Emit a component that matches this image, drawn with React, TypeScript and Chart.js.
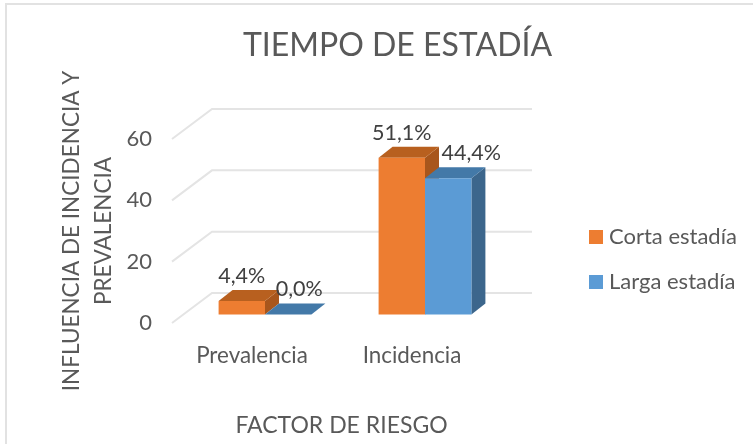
import React, { useEffect, useRef } from "react";
import { Chart, registerables } from "chart.js";

Chart.register(...registerables);

const categories = ["Prevalencia", "Incidencia"];
const corta = [4.4, 51.1];
const larga = [0.0, 44.4];
const cortaName = "Corta estadía";
const largaName = "Larga estadía";
const chartTitle = "TIEMPO DE ESTADÍA";
const xTitle = "FACTOR DE RIESGO";
const yTitle = ["INFLUENCIA DE INCIDENCIA Y", "PREVALENCIA"];

const FONT = "Lato, 'Noto Sans', sans-serif";
const TEXT = "#595959";
const GRID = "#E4E4E4";
const ORANGE = "#ED7D31";
const BLUE = "#5B9BD5";
const SHADES: Record<number, { top: string; side: string }> = {
  0: { top: "#B8601F", side: "#A8561C" },
  1: { top: "#4379A8", side: "#3C668C" },
};
// 3D projection: the bars stand a little behind the front plane of the axis box
const WALL = { dx: 40, dy: -30 };
const PLANE = { dx: 13, dy: -8.6 };
const DEPTH = { dx: 14, dy: -11 };
const labelNudge = [
  [0, 0],
  [11, 23],
];
const LABEL_RISE = 25;

const threeD = {
  id: "threeD",
  beforeLayout(chart: any) {
    const legend = chart.legend;
    if (legend && !legend.__wrapped) {
      legend.__wrapped = true;
      const fit = legend.fit.bind(legend);
      legend.fit = () => {
        fit();
        legend.width = 261;
      };
    }
  },
  afterLayout(chart: any) {
    const legend = chart.legend;
    if (legend) {
      legend.left = 571;
      legend.right = 753;
      legend.top = 203;
      legend.bottom = 320;
    }
    const x = chart.scales.x;
    if (x && !x.__wrapped) {
      x.__wrapped = true;
      const drawTitle = x.drawTitle.bind(x);
      x.drawTitle = () => {
        chart.ctx.save();
        chart.ctx.translate(9.5, 0);
        drawTitle();
        chart.ctx.restore();
      };
    }
  },
  beforeDraw(chart: any) {
    const { ctx, width, height } = chart;
    ctx.save();
    ctx.strokeStyle = "#E2E2E2";
    ctx.lineWidth = 2;
    ctx.beginPath();
    ctx.moveTo(6, height);
    ctx.lineTo(6, 4);
    ctx.lineTo(width, 4);
    ctx.stroke();
    ctx.restore();
  },
  beforeDatasetsDraw(chart: any) {
    const { ctx, chartArea, scales } = chart;
    ctx.save();
    ctx.strokeStyle = GRID;
    ctx.lineWidth = 2;
    scales.y.ticks.forEach((t: any) => {
      const y = scales.y.getPixelForValue(t.value);
      ctx.beginPath();
      ctx.moveTo(chartArea.left, y);
      ctx.lineTo(chartArea.left + WALL.dx, y + WALL.dy);
      ctx.lineTo(chartArea.right + WALL.dx, y + WALL.dy);
      ctx.stroke();
    });
    ctx.restore();

    // top and side faces, left series first, so the right bars cover them
    ctx.save();
    ctx.translate(PLANE.dx, PLANE.dy);
    chart.data.datasets.forEach((_: any, i: number) => {
      const shade = SHADES[i];
      chart.getDatasetMeta(i).data.forEach((el: any) => {
        const { x, y, base, width } = el.getProps(["x", "y", "base", "width"]);
        const l = x - width / 2;
        const r = x + width / 2;
        ctx.fillStyle = shade.side;
        ctx.beginPath();
        ctx.moveTo(r, y);
        ctx.lineTo(r + DEPTH.dx, y + DEPTH.dy);
        ctx.lineTo(r + DEPTH.dx, base + DEPTH.dy);
        ctx.lineTo(r, base);
        ctx.closePath();
        ctx.fill();
        ctx.fillStyle = shade.top;
        ctx.beginPath();
        ctx.moveTo(l, y);
        ctx.lineTo(l + DEPTH.dx, y + DEPTH.dy);
        ctx.lineTo(r + DEPTH.dx, y + DEPTH.dy);
        ctx.lineTo(r, y);
        ctx.closePath();
        ctx.fill();
      });
    });
    ctx.restore();
  },
  beforeDatasetDraw(chart: any) {
    chart.ctx.save();
    chart.ctx.translate(PLANE.dx, PLANE.dy);
  },
  afterDatasetDraw(chart: any) {
    chart.ctx.restore();
  },
  afterDatasetsDraw(chart: any) {
    const { ctx } = chart;
    ctx.save();
    ctx.font = `21.5px ${FONT}`;
    ctx.fillStyle = "#404040";
    ctx.textAlign = "center";
    ctx.textBaseline = "middle";
    chart.data.datasets.forEach((ds: any, i: number) => {
      chart.getDatasetMeta(i).data.forEach((el: any, j: number) => {
        const text = ds.data[j].toFixed(1).replace(".", ",") + "%";
        ctx.fillText(text, el.x + PLANE.dx + labelNudge[i][j], el.y + PLANE.dy - LABEL_RISE);
      });
    });
    ctx.restore();
  },
};

export default function App() {
  const ref = useRef<HTMLCanvasElement>(null);
  useEffect(() => {
    const chart = new Chart(ref.current!, {
      type: "bar",
      data: {
        labels: categories,
        datasets: [
          { label: cortaName, data: corta, backgroundColor: ORANGE, clip: false },
          { label: largaName, data: larga, backgroundColor: BLUE, clip: false },
        ],
      },
      options: {
        responsive: false,
        animation: false,
        layout: { padding: { left: 42, right: 0, top: 0, bottom: 0 } },
        datasets: { bar: { categoryPercentage: 0.58, barPercentage: 1 } },
        plugins: {
          tooltip: { enabled: false },
          title: {
            display: true,
            text: chartTitle,
            color: TEXT,
            font: { family: FONT, size: 32, weight: "normal", lineHeight: 1.2 },
            padding: { top: 26, bottom: 74.6 },
          },
          legend: {
            position: "right",
            align: "start",
            labels: {
              color: TEXT,
              font: { family: FONT, size: 22 },
              boxWidth: 4,
              boxHeight: 4,
              padding: 23,
              generateLabels(c: any) {
                return Chart.defaults.plugins.legend.labels.generateLabels(c).map((it: any) => ({
                  ...it,
                  strokeStyle: it.fillStyle,
                  lineWidth: 10,
                }));
              },
            },
          },
        },
        scales: {
          x: {
            grid: { display: false, drawTicks: false },
            border: { display: false },
            ticks: { color: TEXT, font: { family: FONT, size: 22.4 }, padding: 19, maxRotation: 0, autoSkip: false },
            title: {
              display: true,
              text: xTitle,
              color: TEXT,
              font: { family: FONT, size: 23, weight: "normal", lineHeight: 1.2 },
              padding: { top: 0, bottom: 5 },
            },
            afterFit(s: any) {
              s.height = 121;
            },
          },
          y: {
            min: 0,
            max: 60,
            grid: { display: false, drawTicks: false },
            border: { display: false },
            ticks: { stepSize: 20, color: TEXT, font: { family: FONT, size: 22 }, padding: 20 },
            title: {
              display: true,
              text: yTitle,
              color: TEXT,
              font: { family: FONT, size: 22.5, weight: "normal", lineHeight: 1.45 },
              padding: { top: 13, bottom: 0 },
            },
            afterFit(s: any) {
              s.width = 130;
            },
          },
        },
      },
      plugins: [threeD],
    } as any);
    return () => chart.destroy();
  }, []);
  return (
    <div style={{ position: "fixed", left: 0, top: 0, width: 753, height: 444, background: "#fff" }}>
      <canvas ref={ref} width={753} height={444} style={{ display: "block" }} />
    </div>
  );
}
